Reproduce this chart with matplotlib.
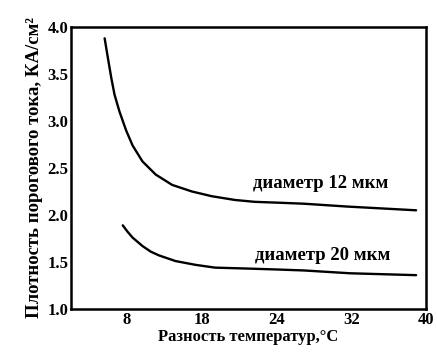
import matplotlib
matplotlib.use('Agg')
import matplotlib.pyplot as plt

plt.rcParams.update({
    'font.family': ['Liberation Serif', 'DejaVu Serif'],
    'font.weight': 'bold',
    'font.size': 12,
})

# Разность температур (ось x) и плотность порогового тока, КА/см²
x_12 = [5.60, 5.95, 6.31, 6.66, 7.19, 7.90, 8.59, 9.65, 11.07, 12.83, 14.95, 17.06,
        19.54, 21.66, 24.44, 26.95, 31.53, 35.24, 38.94]
y_12 = [3.88, 3.67, 3.46, 3.28, 3.10, 2.90, 2.74, 2.57, 2.43, 2.32, 2.25, 2.20,
        2.16, 2.14, 2.13, 2.12, 2.09, 2.07, 2.05]

x_20 = [7.54, 8.07, 8.59, 9.65, 10.54, 11.42, 13.19, 15.31, 17.42, 20.95, 24.12,
        26.95, 31.88, 38.94]
y_20 = [1.89, 1.82, 1.76, 1.67, 1.61, 1.57, 1.51, 1.47, 1.44, 1.43, 1.42,
        1.41, 1.38, 1.36]

x_ticks = [8, 16, 24, 32, 40]
x_labels = ['8', '18', '24', '32', '40']
y_ticks = [1.0, 1.5, 2.0, 2.5, 3.0, 3.5, 4.0]

fig = plt.figure(figsize=(4.37, 3.55), dpi=100)
ax = fig.add_axes([71/437, 1 - 309/355, (426 - 71)/437, (309 - 27)/355])

ax.plot(x_12, y_12, color='black', linewidth=1.7, solid_capstyle='round')
ax.plot(x_20, y_20, color='black', linewidth=1.7, solid_capstyle='round')

ax.text(28.7, 2.34, 'диаметр 12 мкм', ha='center', va='center', fontsize=13.5, fontweight='bold')
ax.text(28.9, 1.57, 'диаметр 20 мкм', ha='center', va='center', fontsize=13.5, fontweight='bold')

ax.set_xlim(2, 40)
ax.set_ylim(1.0, 4.0)
ax.set_xticks(x_ticks)
ax.set_xticklabels(x_labels)
ax.set_yticks(y_ticks)
ax.set_yticklabels([f'{v:.1f}' for v in y_ticks])
ax.tick_params(length=0, pad=2, labelsize=12)

for s in ax.spines.values():
    s.set_linewidth(1.8)

ax.set_xlabel('Разность температур,°C', fontsize=12, fontweight='bold', labelpad=1)
ax.set_ylabel('Плотность порогового тока, КА/см²', fontsize=13.5, fontweight='bold', labelpad=3)

fig.savefig('out.png', dpi=100)
